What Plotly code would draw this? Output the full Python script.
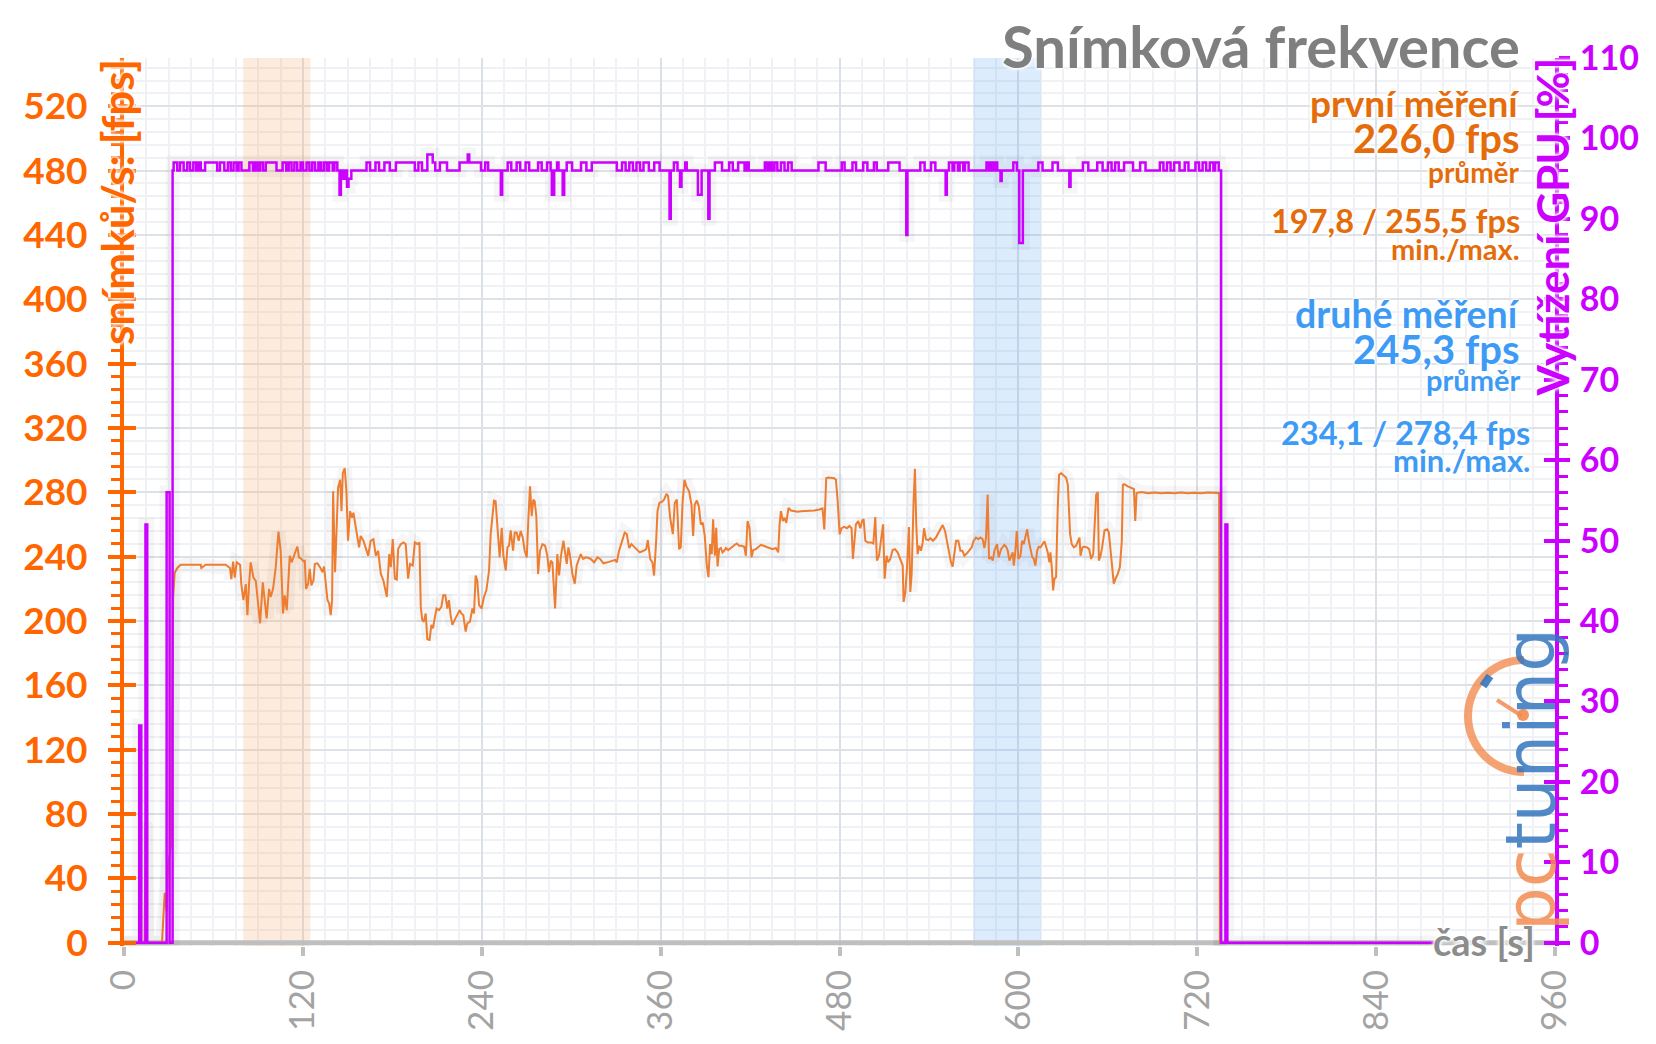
import math
import plotly.graph_objects as go

# ---------------- data ----------------
fps_t = [0, 13.8, 14.5, 15.3, 25.5, 27.3, 28.7, 29.6, 31.5, 33.0, 34.0, 35.8, 38, 41.4, 45, 51.5, 51.9, 54.8, 60, 68.2,
         71.1, 72, 73.2, 74.3, 75.6, 77.9, 78.7, 80.1, 81.7, 82.8, 83.9, 85, 86.8, 88.4, 89.5, 91.3, 93.1, 94.4, 95.7, 97.3,
         98.4, 100, 101.8, 103.6, 105.1, 106.7, 107.8, 109.2, 111.2, 112.5, 114.1, 115.2, 116.3, 117.4, 119, 120.4, 121.3, 122.1, 123.5, 124.6,
         125.7, 127.1, 128, 129.8, 131.5, 133.1, 134.2, 135.3, 136.5, 137.6, 138.7, 139.6, 140.3, 141.6, 142.5, 143.6, 145, 145.9, 146.8, 148.1,
         149.2, 150.3, 151.7, 153, 153.9, 154.8, 156.6, 157.7, 158.8, 160.6, 162.4, 163.8, 165.5, 167.3, 168.9, 170.5, 172.3, 174, 176.3, 177.9,
         179, 180.3, 181.7, 183, 183.9, 185.7, 187.5, 189, 190.6, 191.9, 193.7, 195.1, 196.9, 198.2, 199.1, 200.1, 201.2, 202.4, 203.5, 205,
         206.2, 207.3, 208.4, 209.7, 211.3, 212.9, 214.2, 215.6, 216.9, 218, 219.1, 220.3, 221.8, 223.6, 225.2, 226.3, 227.6, 229.2, 230.3, 232.1,
         233.7, 234.8, 235.9, 237, 238.2, 239.9, 241.5, 243.1, 244.9, 246, 247.3, 248.2, 249.3, 250.5, 252, 253.4, 254.5, 256.1, 257.2, 258.3,
         259.4, 261, 262.1, 263.4, 264.8, 266.1, 267.5, 268.8, 270.2, 271.3, 272.4, 273.5, 274.6, 275.5, 276.6, 277.8, 279.1, 280.7, 282.5, 284,
         285.1, 286.3, 287.4, 288.1, 289.2, 290.7, 291.9, 293, 294.8, 295.9, 297, 298.1, 299.2, 300.8, 302.4, 303.7, 305.3, 306.4, 308, 309.8,
         311.6, 313.1, 315.4, 317.6, 319.4, 321.6, 324.3, 327.7, 329.5, 330.6, 332.1, 333.9, 335.9, 337.3, 338.9, 340.4, 342.2, 344, 346, 348.5,
         350.3, 351.4, 353, 354.5, 355.6, 357, 357.9, 359.2, 360.8, 362.3, 363.9, 365, 366.4, 368.2, 369.5, 370.9, 372.4, 373.5, 374.7, 376,
         377.3, 379.1, 380.7, 381.8, 382.9, 384.3, 385.6, 387, 388.3, 389.6, 391, 392.1, 393.2, 394.3, 395.2, 396.4, 397.3, 398.2, 399.3, 400.4,
         401.5, 402.6, 403.8, 405.3, 406.7, 408.2, 409.8, 411.1, 412.7, 414.3, 416.1, 417.2, 418.3, 419.6, 421, 422.1, 423.9, 425.5, 427.3, 429,
         430.6, 432.8, 435.1, 437.3, 438.9, 439.8, 440.7, 442, 443.1, 444.3, 445.8, 447.4, 449.6, 451.9, 454.1, 457.5, 460.8, 463.1, 466.4, 468.6,
         469.8, 471.1, 472.5, 474.7, 476.5, 477.6, 478.7, 480.1, 481.4, 483.2, 485, 486.6, 488.1, 489, 489.9, 491, 492.6, 493.9, 495.3, 496.2,
         497.3, 498.9, 501.1, 502.7, 504, 505.1, 506.5, 507.8, 509.2, 510.3, 511.6, 512.7, 514.1, 515.6, 517.2, 519, 521.2, 522.4, 523, 524.1,
         525.3, 526.6, 527.5, 528.4, 529.7, 530.6, 531.5, 532.4, 533.5, 534.7, 535.8, 536.7, 538, 539.6, 540.9, 542.7, 544.7, 546.3, 547.6, 549.2,
         550.8, 552.1, 553.7, 554.8, 555.9, 557, 558.2, 559.7, 561.1, 562.4, 563.8, 565.5, 567.1, 568.7, 570, 571.6, 573.1, 574.5, 576, 577.2,
         578.3, 579.4, 580.3, 581.7, 582.8, 583.9, 585.7, 586.8, 588.4, 589.5, 590.6, 591.8, 592.9, 594, 595.1, 596.2, 596.9, 597.8, 598.9, 600,
         601.4, 602.5, 603.6, 604.7, 605.9, 607, 608.1, 609.2, 610.3, 611.4, 612.6, 613.7, 614.8, 616.4, 617.5, 618.6, 619.7, 620.8, 621.5, 622.4,
         623.3, 624.2, 625.3, 626.4, 627.3, 628.7, 630.2, 632, 633.2, 633.8, 634.7, 635.8, 637.2, 638.7, 639.9, 641, 641.7, 643, 644.3, 646.1,
         647.5, 648.8, 650.2, 651.3, 652.2, 653.3, 654, 655.1, 656.2, 657.8, 659.6, 660.7, 661.8, 663.1, 664, 665.2, 666.7, 668.1, 669.4, 670.1,
         671, 673.4, 675.7, 677.5, 678.4, 679.3, 682.4, 686.9, 691.3, 695.8, 700.3, 704.7, 709.2, 713.7, 718.2, 722.6, 727.1, 731.5, 734.7, 735.2,
         740]
fps_v = [0, 0, 75, 0, 0, 31, 19.5, 48.5, 60, 215, 230, 233, 235, 235.1, 235, 235, 233, 235, 235, 235,
         233, 226, 237, 227, 236.5, 235, 223, 213, 223, 203.7, 223, 236.5, 227, 225, 215, 198.6, 224, 214, 201.7, 220,
         215, 220, 233.5, 255.6, 243.7, 204.7, 216, 206.8, 240.6, 236.5, 241.6, 243.7, 246.2, 239.6, 238.6, 237.1, 237.5, 220, 223, 232.4,
         222.2, 225.2, 235.5, 235.9, 233.5, 230.4, 233.9, 221.1, 213, 211, 203.7, 213, 280.6, 230.4, 254, 282.7, 287.8, 268.3, 291.9, 295,
         280.6, 249.9, 268.3, 264.2, 267.3, 262.2, 250.9, 245.8, 252.9, 249.9, 244.7, 240.6, 249.9, 250.9, 240.6, 243.7, 229.3, 225.2, 215, 241.6,
         233.5, 250.9, 226.3, 225.7, 244.7, 247.8, 248.9, 247.8, 226.3, 235.5, 234.5, 248.9, 247.8, 248.9, 208.8, 200.6, 199.6, 204.7, 188.7, 188.3,
         197.6, 195.5, 201.7, 207.8, 206.8, 208.8, 216, 216, 207.8, 213, 203.7, 197.6, 200.6, 203.7, 206.8, 204.7, 203.7, 193.5, 198.6, 199.6,
         207.8, 204.7, 228.3, 225.2, 209.9, 207.8, 215, 219.1, 231.4, 254, 264.2, 274.9, 274.5, 257, 239.6, 258, 240.6, 231.4, 245.8, 246.8,
         256.4, 243.7, 255, 255, 249.9, 256, 251.9, 243.7, 239.6, 264.2, 283.7, 265.2, 275.5, 274.5, 265.2, 229.3, 243.7, 247.8, 246.8, 240.6,
         230.4, 237.6, 236.5, 225.2, 207.8, 241.6, 228.3, 239.6, 249.9, 242.7, 235.5, 245.8, 240.6, 229.3, 223.2, 234.5, 239.6, 241.6, 238.6, 239.6,
         239.2, 238.6, 236.5, 239.6, 238.6, 235.9, 236.5, 237.6, 238, 236.5, 243.7, 248.9, 255, 254, 245.4, 247.8, 246.2, 244.7, 242.7, 243.7,
         244.7, 250.3, 238.6, 236.5, 228.3, 249.9, 268.3, 273.5, 274, 275.5, 279, 277.6, 264.2, 254, 273.5, 275.5, 244.7, 245.8, 273.5, 287.8,
         283.7, 280.6, 272.4, 252.9, 272.4, 274.9, 271.4, 260.1, 261.1, 252.9, 234.5, 227.3, 247.8, 241.6, 263.2, 240.6, 258, 233.9, 244.7, 245.4,
         242.7, 243.7, 245.4, 244.1, 245.4, 246.2, 247.4, 248.2, 246.8, 246.8, 246.2, 240.6, 262.2, 258, 239.6, 244.1, 244.7, 246.2, 247.4, 246.8,
         246.2, 245.4, 244.7, 245.4, 242.7, 260.1, 268.3, 262.2, 264.2, 261.1, 270.4, 268.7, 268.3, 267.9, 268.3, 268.3, 268.7, 268.7, 269.3, 270,
         257, 288.8, 289.2, 288.8, 288.8, 287.8, 275.5, 254, 257.7, 258.5, 257.7, 259.1, 257.7, 238.6, 248.9, 260.1, 262.2, 257.7, 262.6, 263.2,
         249.9, 248.9, 248.9, 248.2, 264.6, 237.6, 240.6, 251.9, 260.1, 226.3, 240.6, 236.5, 238.6, 244.1, 244.7, 242.7, 236.5, 234.5, 211.9, 217,
         233.5, 258.5, 218.1, 229.3, 274.5, 294.6, 260.1, 241.6, 246.8, 243.7, 248.9, 257.7, 250.9, 250.3, 251.5, 249.9, 251.9, 255, 257, 259.7,
         256, 249.9, 241.6, 236.5, 233.9, 240.6, 249.9, 249.9, 243.7, 243.7, 240.6, 242.1, 243.7, 245.8, 249.9, 251.9, 250.9, 251.9, 250.9, 245.4,
         251.9, 278.6, 238.6, 239.6, 237.6, 243.7, 247.8, 239.6, 244.7, 245.8, 247.4, 246.2, 243.7, 237.6, 240.6, 242.7, 234.5, 241.6, 256, 238.6,
         240.6, 249.9, 247.8, 251.9, 257, 249.9, 245.8, 240, 238.6, 234.5, 243.7, 246.2, 245.8, 248.2, 249.5, 246.2, 242.7, 236.5, 242.7, 233.5,
         219.1, 226.3, 227.3, 270.4, 290.9, 291.9, 290.9, 289.2, 284.7, 270.4, 254, 247.8, 245.8, 246.8, 249.9, 251.9, 240.6, 245.8, 246.2, 245.8,
         244.7, 238.6, 241.6, 263.2, 278.6, 280.2, 237.6, 240.6, 245.8, 256.4, 257, 255, 245.8, 232.4, 223.2, 226.3, 229.3, 233.5, 249.9, 284.7,
         285.1, 283.7, 282.7, 282.1, 262.2, 279.6, 280.2, 279.4, 279.9, 279.5, 279.8, 279.4, 279.9, 279.5, 279.8, 279.4, 279.9, 279.5, 279.6, 0,
         0]

gpu_t = [0, 10.2, 11.6, 14.4, 15.6, 28.6, 30.6, 32.6, 33.3, 35.7, 37.6, 40.0, 42.4, 44.3, 46.5, 48.4, 50.0, 51.5, 54.4, 62.5,
         64.4, 67.3, 69.7, 71.6, 73.5, 75.5, 76.9, 78.8, 84.1, 86.5, 87.9, 89.6, 91.3, 93.2, 95.1, 102.3, 106.4, 108.8, 110.5, 112.4,
         114.3, 116.2, 118.4, 120.1, 122.5, 124.4, 126.3, 128.2, 130.4, 132.1, 134.0, 135.9, 137.6, 140.0, 141.2, 143.1, 144.6, 145.5, 147.2, 148.0,
         149.6, 150.6, 152.5, 162.7, 165.1, 168.7, 171.1, 174.7, 178.3, 182.4, 195.1, 197.5, 199.9, 203.5, 207.1, 208.8, 211.9, 216.7, 225.1, 230.6,
         231.6, 239.5, 242.3, 244.3, 252.8, 253.7, 257.4, 259.8, 263.4, 265.8, 269.4, 271.8, 277.8, 280.2, 283.8, 286.2, 287.0, 288.6, 290.5, 291.5,
         294.3, 295.3, 297.0, 300.6, 306.6, 310.2, 313.8, 330.6, 334.1, 336.5, 339.0, 341.4, 343.8, 346.2, 348.5, 352.1, 355.7, 359.3, 366.0, 366.8,
         368.9, 371.3, 373.0, 374.0, 376.5, 377.5, 385.0, 387.5, 392.0, 392.8, 396.4, 401.2, 406.0, 408.4, 412.0, 416.3, 417.5, 419.1, 429.9, 431.6,
         433.1, 434.7, 436.4, 438.3, 440.7, 443.1, 445.5, 447.9, 465.9, 470.7, 481.5, 483.4, 488.7, 491.1, 495.9, 498.7, 503.1, 505.0, 512.7, 520.3,
         524.8, 525.6, 534.2, 537.1, 541.4, 544.3, 551.2, 552.0, 553.4, 555.8, 557.0, 559.4, 560.6, 563.0, 564.2, 566.6, 578.6, 580.3, 581.7, 583.4,
         584.6, 585.8, 588.0, 588.8, 596.6, 599.0, 600.6, 603.0, 613.4, 616.2, 622.9, 626.5, 634.2, 635.0, 643.3, 646.9, 652.9, 656.5, 660.1, 662.5,
         664.9, 667.3, 670.9, 676.9, 681.7, 685.3, 694.9, 697.3, 699.7, 702.1, 704.5, 708.1, 711.6, 714.1, 718.8, 721.2, 723.6, 726.0, 728.4, 730.8,
         732.0, 734.4, 736.0, 738.9, 740.2, 880]
gpu_v = [0, 27, 0, 52, 0, 56, 0, 96, 97, 96, 97, 96, 97, 96, 97, 96, 97, 96, 97, 96,
         97, 96, 97, 96, 97, 96, 97, 96, 97, 96, 97, 96, 97, 96, 97, 96, 97, 96, 97, 96,
         97, 96, 97, 96, 97, 96, 97, 96, 97, 96, 97, 96, 97, 96, 97, 96, 93, 96, 95, 96,
         94, 95, 96, 97, 96, 97, 96, 97, 96, 97, 96, 97, 96, 98, 97, 96, 97, 96, 97, 98,
         97, 96, 97, 96, 93, 96, 97, 96, 97, 96, 97, 96, 97, 96, 97, 96, 93, 96, 97, 96,
         93, 96, 97, 96, 97, 96, 97, 96, 97, 96, 97, 96, 97, 96, 97, 96, 97, 96, 90, 96,
         97, 96, 94, 96, 97, 96, 93, 96, 90, 96, 97, 96, 97, 96, 97, 96, 97, 96, 97, 96,
         97, 96, 97, 96, 97, 96, 97, 96, 97, 96, 97, 96, 97, 96, 97, 96, 97, 96, 97, 96,
         88, 96, 97, 96, 97, 96, 93, 96, 97, 96, 97, 96, 97, 96, 97, 96, 97, 96, 97, 96,
         97, 96, 94.7, 96, 97, 96, 87, 96, 97, 96, 97, 96, 94, 96, 97, 96, 97, 96, 97, 96,
         97, 96, 97, 96, 97, 96, 97, 96, 97, 96, 97, 96, 97, 96, 97, 96, 97, 96, 97, 96,
         97, 96, 0, 52, 0, 0]

x_ticks = [0, 120, 240, 360, 480, 600, 720, 840, 960]
band_first = [80, 125]
band_second = [570, 615]

title_text = "Snímková frekvence"
info_first = ["první měření", "226,0 fps", "průměr", "197,8 / 255,5 fps", "min./max."]
info_second = ["druhé měření", "245,3 fps", "průměr", "234,1 / 278,4 fps", "min./max."]

# ---------------- geometry helpers (layout only) ----------------
W, H = 1656, 1044
ML, MR, MT, MB = 124, 101, 58, 98
PW, PH = W - ML - MR, H - MT - MB


def px(X):
    return (X - ML) / PW


def py(Y):
    return (H - MB - Y) / PH


GLOW = "0px 0px 3px #ffffff, 0px 0px 3px #ffffff, 0px 0px 4px #ffffff, 0px 0px 5px #ffffff"
ORANGE_TXT = "#e46c0a"
BLUE_TXT = "#3d9bf5"
FPS_COL = "#ed7d31"
GPU_COL = "#cc00ff"
AX_OR = "#ff6600"

fig = go.Figure()

# soft glow under the lines
fig.add_trace(go.Scatter(x=fps_t, y=fps_v, mode="lines", hoverinfo="skip", showlegend=False,
                         line=dict(color="rgba(0,0,0,0.035)", width=14)))
fig.add_trace(go.Scatter(x=fps_t, y=fps_v, mode="lines", name="fps",
                         line=dict(color=FPS_COL, width=2)))
fig.add_trace(go.Scatter(x=gpu_t, y=gpu_v, yaxis="y2", mode="lines", hoverinfo="skip", showlegend=False,
                         line=dict(color="rgba(0,0,0,0.035)", width=14, shape="hv")))
fig.add_trace(go.Scatter(x=gpu_t, y=gpu_v, yaxis="y2", mode="lines", name="GPU",
                         line=dict(color=GPU_COL, width=2.5, shape="hv")))
# carriers for the inside-tick overlay axes
fig.add_trace(go.Scatter(x=[None], y=[None], yaxis="y3", showlegend=False, hoverinfo="skip"))
fig.add_trace(go.Scatter(x=[None], y=[None], yaxis="y4", showlegend=False, hoverinfo="skip"))

shapes = [
    dict(type="rect", xref="x", yref="y", x0=band_first[0], x1=band_first[1], y0=-2, y1=550,
         fillcolor="rgba(247,180,120,0.25)", line=dict(width=0), layer="between"),
    dict(type="rect", xref="x", yref="y", x0=band_second[0], x1=band_second[1], y0=-2, y1=550,
         fillcolor="rgba(100,170,245,0.22)", line=dict(width=0), layer="between"),
    dict(type="line", xref="x", yref="y", x0=0, x1=960, y0=0, y1=0,
         line=dict(color="#bfbfbf", width=5), layer="between"),
]

# watermark gauge arc (decoration)
cx, cy, r = 1524, 716, 56
pts = []
for k in range(0, 37):
    a = math.radians(90 + k * 5)
    X = cx + r * math.cos(a)
    Y = cy - r * math.sin(a)
    pts.append(f"{px(X):.5f},{py(Y):.5f}")
shapes.append(dict(type="path", xref="paper", yref="paper", path="M " + " L ".join(pts),
                   line=dict(color="rgba(242,140,80,0.8)", width=8), layer="above"))
shapes.append(dict(type="line", xref="paper", yref="paper", x0=px(1497), y0=py(700), x1=px(1522), y1=py(716),
                   line=dict(color="rgba(242,140,80,0.85)", width=4), layer="above"))
shapes.append(dict(type="circle", xref="paper", yref="paper", x0=px(1517), y0=py(709), x1=px(1529), y1=py(721),
                   fillcolor="rgba(242,140,80,0.9)", line=dict(width=0), layer="above"))
shapes.append(dict(type="line", xref="paper", yref="paper", x0=px(1483), y0=py(686), x1=px(1490), y1=py(676),
                   line=dict(color="rgba(52,118,190,0.9)", width=8), layer="above"))

annotations = []


def add_text(text, X, Y, size, color, xanchor="right", yanchor="middle", angle=0, weight="bold", shadow=GLOW,
             family="Lato"):
    annotations.append(dict(text=text, x=px(X), y=py(Y), xref="paper", yref="paper",
                            xanchor=xanchor, yanchor=yanchor, textangle=angle, showarrow=False,
                            font=dict(family=family, size=size, color=color, weight=weight, shadow=shadow)))


add_text(title_text, 1522, 45, 58, "#7f7f7f")
sizes = [37, 40, 28, 32.5, 29]
ys1 = [103, 138, 172, 221, 248]
for t, s, y in zip(info_first, sizes, ys1):
    add_text(t, 1522, y, s, ORANGE_TXT)
ys2 = [313, 349, 380, 432, 460]
xs2 = [1522, 1522, 1522, 1532, 1532]
sizes2 = [37.5, 40, 29, 32.5, 31]
for t, s, y, x in zip(info_second, sizes2, ys2, xs2):
    add_text(t, x, y, s, BLUE_TXT)

add_text("snímků/s: [fps]", 117, 57, 44, AX_OR, xanchor="center", yanchor="top", angle=-90)
add_text("Vytížení GPU [%]", 1552, 56, 44, GPU_COL, xanchor="center", yanchor="top", angle=-90)
add_text("čas [s]", 1537, 941, 38, "#8c8c8c")
annotations.append(dict(
    text='<span style="color:rgba(242,140,80,0.85)">pc</span><span style="color:rgba(52,118,190,0.85)">tuning</span>',
    x=px(1531), y=py(780), xref="paper", yref="paper", xanchor="center", yanchor="middle",
    textangle=-90, showarrow=False, font=dict(family="DejaVu Sans", size=69, weight="normal")))

fig.update_layout(
    width=W, height=H,
    margin=dict(l=ML, r=MR, t=MT, b=MB, pad=0, autoexpand=False),
    paper_bgcolor="white", plot_bgcolor="white",
    showlegend=False,
    font=dict(family="Lato"),
    xaxis=dict(range=[0, 960], tickmode="array", tickvals=x_ticks, ticktext=[str(v) for v in x_ticks],
               tickangle=-90, tickfont=dict(family="Lato", size=35, color="#a3a3a3"),
               ticks="outside", ticklen=9, tickwidth=4, tickcolor="#bfbfbf", automargin=False,
               showline=False, showgrid=True, gridcolor="#dbdfe7", gridwidth=2, zeroline=False,
               minor=dict(dtick=15, tick0=0, showgrid=True, gridcolor="#eff1f5", gridwidth=2, ticks="")),
    yaxis=dict(range=[-2, 550], tick0=0, dtick=40, automargin=False,
               tickfont=dict(family="Lato", size=37, color=AX_OR, weight="bold"),
               ticks="outside", ticklen=12, tickwidth=4, tickcolor=AX_OR,
               showline=True, linecolor=AX_OR, linewidth=4,
               showgrid=True, gridcolor="#dde1e8", gridwidth=2, zeroline=False,
               ticklabelstandoff=13,
               minor=dict(tick0=0, dtick=8, ticks="outside", ticklen=9, tickwidth=3, tickcolor=AX_OR,
                          showgrid=True, gridcolor="#eff1f5", gridwidth=2)),
    yaxis2=dict(overlaying="y", side="right", anchor="x", range=[-0.4, 110], tick0=0, dtick=10, automargin=False,
                tickfont=dict(family="Lato", size=34, color=GPU_COL, weight="bold"),
                ticks="outside", ticklen=11, tickwidth=4, tickcolor=GPU_COL,
                showline=True, linecolor=GPU_COL, linewidth=4, showgrid=False, zeroline=False,
                ticklabelstandoff=3,
                minor=dict(tick0=0, dtick=2, ticks="outside", ticklen=9, tickwidth=3, tickcolor=GPU_COL,
                           showgrid=False)),
    yaxis3=dict(overlaying="y", side="left", anchor="x", range=[-2, 550], tick0=0, dtick=40, automargin=False,
                ticks="inside", ticklen=12, tickwidth=4, tickcolor=AX_OR, showticklabels=False,
                showgrid=False, zeroline=False, showline=False),
    yaxis4=dict(overlaying="y", side="right", anchor="x", range=[-0.4, 110], tick0=0, dtick=10, automargin=False,
                ticks="inside", ticklen=11, tickwidth=4, tickcolor=GPU_COL, showticklabels=False,
                showgrid=False, zeroline=False, showline=False),
    shapes=shapes,
    annotations=annotations,
)

fig.write_html("out.html")
